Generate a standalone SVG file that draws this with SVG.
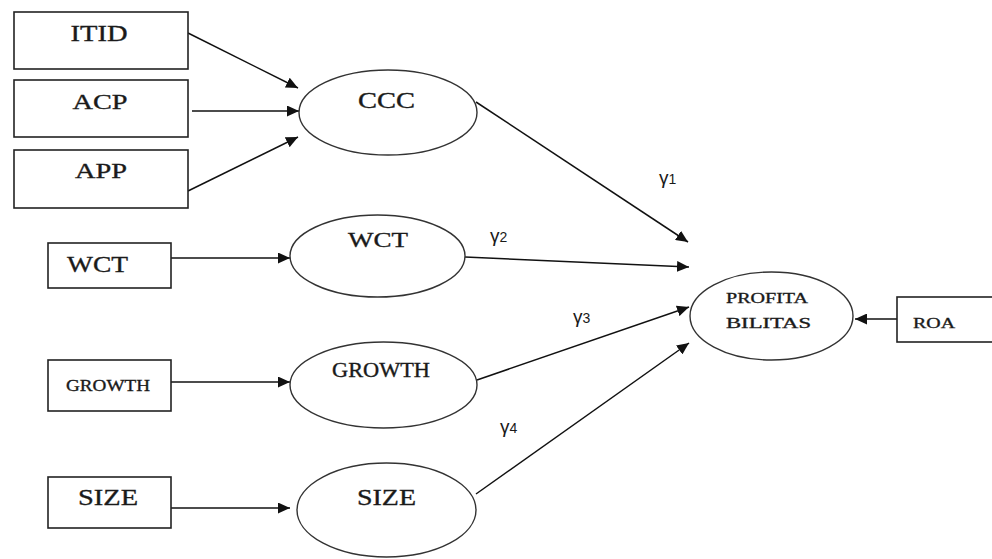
<svg xmlns="http://www.w3.org/2000/svg" width="992" height="559" viewBox="0 0 992 559">
<defs>
<style>
.box{fill:#fff;stroke:#222;stroke-width:1.6}
.ell{fill:#fff;stroke:#333;stroke-width:1.4}
.t{font-family:"Liberation Serif","Times New Roman",serif;fill:#1a1a1a;stroke:#1a1a1a;stroke-width:0.35;text-anchor:middle}
.g{font-family:"Liberation Sans",Arial,sans-serif;fill:#1a1a1a}
.c{stroke:#111;stroke-width:1.5;fill:none;marker-end:url(#ah)}
</style>
<marker id="ah" markerUnits="userSpaceOnUse" markerWidth="13" markerHeight="11" refX="12" refY="5.5" orient="auto">
<path d="M0,0 L12,5.5 L0,11 Z" fill="#111"/>
</marker>
</defs>
<rect width="992" height="559" fill="#fff"/>
<g id="connectors">
<line class="c" x1="188" y1="33" x2="298" y2="88"/>
<line class="c" x1="192" y1="111" x2="299" y2="111"/>
<line class="c" x1="188" y1="191" x2="298" y2="137"/>
<line class="c" x1="171" y1="258" x2="290" y2="258"/>
<line class="c" x1="171" y1="382" x2="290" y2="382"/>
<line class="c" x1="171" y1="508" x2="290" y2="508"/>
<line class="c" x1="476" y1="102" x2="688" y2="242"/>
<line class="c" x1="465" y1="257" x2="689" y2="267"/>
<line class="c" x1="477" y1="380" x2="689" y2="307"/>
<line class="c" x1="476" y1="494" x2="689" y2="343"/>
<line class="c" x1="897" y1="319" x2="855" y2="319"/>
</g>
<g id="itid"><rect class="box" x="14" y="12" width="174" height="57"/><text class="t" x="99" y="41" font-size="23" textLength="57" lengthAdjust="spacingAndGlyphs">ITID</text></g>
<g id="acp"><rect class="box" x="14" y="80" width="174" height="57"/><text class="t" x="100" y="109" font-size="22" textLength="55" lengthAdjust="spacingAndGlyphs">ACP</text></g>
<g id="app"><rect class="box" x="14" y="150" width="174" height="58"/><text class="t" x="101" y="178" font-size="22" textLength="52" lengthAdjust="spacingAndGlyphs">APP</text></g>
<g id="ccc"><ellipse class="ell" cx="388" cy="112.5" rx="89" ry="42.5"/><text class="t" x="386.5" y="108" font-size="23" textLength="57" lengthAdjust="spacingAndGlyphs">CCC</text></g>
<g id="wct-box"><rect class="box" x="48" y="243" width="123" height="45"/><text class="t" x="97.5" y="272" font-size="24" textLength="61" lengthAdjust="spacingAndGlyphs">WCT</text></g>
<g id="wct"><ellipse class="ell" cx="377.5" cy="256" rx="87.5" ry="41"/><text class="t" x="378" y="247" font-size="22" textLength="60" lengthAdjust="spacingAndGlyphs">WCT</text></g>
<g id="growth-box"><rect class="box" x="48" y="360" width="123" height="51"/><text class="t" x="108" y="391" font-size="17" textLength="84" lengthAdjust="spacingAndGlyphs">GROWTH</text></g>
<g id="growth"><ellipse class="ell" cx="383.5" cy="385" rx="93.5" ry="43"/><text class="t" x="381" y="377" font-size="20" textLength="98" lengthAdjust="spacingAndGlyphs">GROWTH</text></g>
<g id="size-box"><rect class="box" x="48" y="477" width="123" height="51"/><text class="t" x="108" y="505" font-size="24" textLength="60" lengthAdjust="spacingAndGlyphs">SIZE</text></g>
<g id="size"><ellipse class="ell" cx="386.5" cy="510" rx="89.5" ry="47"/><text class="t" x="386.5" y="505" font-size="24" textLength="59" lengthAdjust="spacingAndGlyphs">SIZE</text></g>
<g id="profitabilitas"><ellipse class="ell" cx="771.5" cy="316" rx="81.5" ry="44"/><text class="t" x="767" y="303" font-size="15" textLength="82" lengthAdjust="spacingAndGlyphs">PROFITA</text><text class="t" x="768.5" y="328" font-size="15" textLength="85" lengthAdjust="spacingAndGlyphs">BILITAS</text></g>
<g id="roa"><rect class="box" x="897" y="297" width="100" height="45"/><text class="t" x="934" y="328" font-size="15" textLength="42" lengthAdjust="spacingAndGlyphs">ROA</text></g>
<g id="gamma-labels">
<text class="g" x="659" y="184" font-size="19">γ<tspan font-size="14">1</tspan></text>
<text class="g" x="490" y="242" font-size="19">γ<tspan font-size="14">2</tspan></text>
<text class="g" x="573" y="323" font-size="19">γ<tspan font-size="14">3</tspan></text>
<text class="g" x="500" y="433" font-size="19">γ<tspan font-size="14">4</tspan></text>
</g>
</svg>
